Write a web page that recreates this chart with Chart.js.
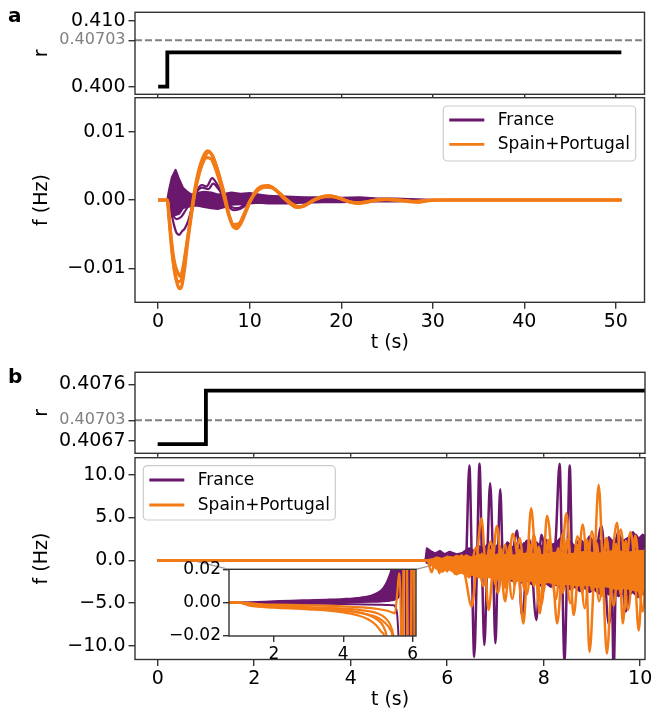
<!DOCTYPE html>
<html>
<head>
<meta charset="utf-8">
<script src="https://cdn.jsdelivr.net/npm/chart.js@4.4.0/dist/chart.umd.min.js"></script>
<style>
  html, body { margin: 0; padding: 0; background: #fff; overflow: hidden; width: 653px; height: 713px; }
  #fig { position: relative; width: 653px; height: 713px; overflow: hidden; background: #fff; }
  #fig canvas { position: absolute; left: 0; }
  .panel { position: absolute; font-family: 'DejaVu Sans'; font-weight: bold; font-size: 20px; line-height: 20px; color: #000; }
</style>
</head>
<body>
<div id="fig">
  <canvas id="rA" width="700" height="100" style="top:0px"></canvas>
  <canvas id="fA" width="700" height="261" style="top:95px"></canvas>
  <canvas id="rB" width="700" height="98" style="top:360px"></canvas>
  <canvas id="fB" width="700" height="258" style="top:455px"></canvas>
  <canvas id="fBin" width="300" height="110" style="left:150px;top:550px"></canvas>
  <div class="panel" style="left:8px;top:5px">a</div>
  <div class="panel" style="left:8px;top:366px">b</div>
</div>
<script>
// ---------------- data ----------------
const R_CRIT = 0.40703;

// panel a: coupling r and frequency deviations over 50 s
const aRTime  = [0, 1, 50.6];
const aRValue = [0.400, 0.4052, 0.4052];

const aFrBandT  = [0, 1.0, 1.2, 1.5, 1.9, 2.3, 2.7, 3.1, 3.6, 4.2, 5.0, 5.8, 6.5, 7.3, 8.0, 9.0, 10.0, 11.0, 12.0, 14.0, 16.0, 18.0, 20.0, 22.0, 24.0, 26.0, 28.0, 30.0, 50.6];
const aFrBandHi = [0, 0, 0.0015, 0.0033, 0.0044, 0.0030, 0.0018, 0.0013, 0.0008, 0.0010, 0.0012, 0.0011, 0.0008, 0.0009, 0.0011, 0.0009, 0.0010, 0.0008, 0.0006, 0.0005, 0.0004, 0.0004, 0.0003, 0.0004, 0.0002, 0.0002, 0.0001, 0, 0];
const aFrBandLo = [0, 0, -0.0012, -0.0020, -0.0022, -0.0020, -0.0012, -0.0010, -0.0009, -0.0008, -0.0010, -0.0012, -0.0013, -0.0010, -0.0007, -0.0006, -0.0005, -0.0004, -0.0005, -0.0005, -0.0004, -0.0003, -0.0003, -0.0002, -0.0002, -0.0002, -0.0001, 0, 0];

const aFr1T = [0, 1.0, 1.3, 1.7, 2.0, 2.3, 2.6, 2.9, 3.3, 3.8, 4.3, 4.8, 5.3, 5.9, 6.4, 7.0, 7.6, 8.3, 9.0, 10.0, 11.0, 12.3, 13.5, 15.0, 17.0, 19.0, 22.0, 25.0, 30.0, 50.6];
const aFr1F = [0, 0, -0.0010, -0.0035, -0.0048, -0.0051, -0.0046, -0.0042, -0.0030, -0.0005, 0.0015, 0.0022, 0.0020, 0.0032, 0.0024, 0.0008, -0.0008, -0.0015, -0.0013, -0.0003, 0.0004, 0.0006, 0.0002, -0.0003, 0, 0.0002, -0.0001, 0.0001, 0, 0];
const aFr2T = [0, 1.0, 1.5, 2.0, 2.5, 3.0, 3.6, 4.2, 4.8, 5.5, 6.0, 6.6, 7.3, 8.0, 8.7, 9.5, 10.5, 12.0, 13.5, 15.0, 18.0, 30.0, 50.6];
const aFr2F = [0, 0, -0.0018, -0.0028, -0.0025, -0.0015, -0.0002, 0.0012, 0.0018, 0.0016, 0.0024, 0.0016, 0.0002, -0.0010, -0.0012, -0.0006, 0.0002, 0.0005, 0.0002, -0.0002, 0.0001, 0, 0];

const aEs1T = [0, 1.0, 1.2, 1.5, 1.8, 2.1, 2.35, 2.6, 2.9, 3.2, 3.6, 4.0, 4.5, 5.0, 5.5, 5.9, 6.3, 6.8, 7.3, 7.8, 8.3, 8.8, 9.4, 10.0, 10.7, 11.5, 12.2, 13.0, 13.8, 14.5, 15.2, 16.0, 17.0, 18.0, 18.8, 19.7, 20.7, 21.7, 22.7, 24.0, 25.0, 26.5, 28.3, 29.5, 31.0, 50.6];
const aEs1F = [0, 0, -0.0030, -0.0075, -0.0105, -0.0124, -0.0130, -0.0125, -0.0100, -0.0065, -0.0025, 0.0010, 0.0040, 0.0060, 0.0070, 0.0066, 0.0052, 0.0030, 0.0005, -0.0025, -0.0040, -0.0038, -0.0022, -0.0003, 0.0012, 0.0019, 0.0020, 0.0013, 0.0003, -0.0006, -0.0010, -0.0008, 0, 0.0005, 0.0006, 0.0003, -0.0002, -0.0005, -0.0003, 0, 0.0001, -0.0001, -0.0003, -0.0001, 0, 0];
const aEs2T = [0, 1.0, 1.2, 1.5, 1.8, 2.1, 2.4, 2.7, 3.0, 3.4, 3.8, 4.3, 4.8, 5.3, 5.8, 6.2, 6.7, 7.2, 7.7, 8.2, 8.8, 9.4, 10.0, 10.8, 11.7, 12.4, 13.2, 14.0, 14.8, 15.5, 16.3, 17.2, 18.2, 19.0, 20.0, 21.0, 22.0, 23.0, 24.5, 26.0, 28.0, 30.0, 50.6];
const aEs2F = [0, 0, -0.0025, -0.0065, -0.0092, -0.0105, -0.0112, -0.0100, -0.0075, -0.0040, -0.0005, 0.0030, 0.0052, 0.0062, 0.0060, 0.0048, 0.0028, 0.0004, -0.0022, -0.0036, -0.0035, -0.0020, -0.0002, 0.0013, 0.0019, 0.0018, 0.0011, 0.0001, -0.0007, -0.0010, -0.0006, 0.0001, 0.0005, 0.0005, 0.0002, -0.0003, -0.0004, -0.0002, 0.0001, 0, -0.0002, 0, 0];
const aEs3T = [0, 1.0, 1.3, 1.6, 1.9, 2.2, 2.5, 2.8, 3.1, 3.5, 3.9, 4.4, 4.9, 5.4, 5.8, 6.2, 6.7, 7.2, 7.7, 8.2, 8.6, 9.2, 9.8, 10.5, 11.3, 12.0, 12.8, 13.6, 14.4, 15.1, 15.9, 16.8, 17.8, 18.6, 19.5, 20.5, 21.5, 22.5, 23.5, 25.0, 27.0, 28.5, 30.0, 50.6];
const aEs3F = [0, 0, -0.0040, -0.0085, -0.0112, -0.0120, -0.0118, -0.0098, -0.0068, -0.0030, 0.0008, 0.0042, 0.0063, 0.0072, 0.0068, 0.0056, 0.0034, 0.0008, -0.0020, -0.0038, -0.0042, -0.0030, -0.0010, 0.0010, 0.0020, 0.0021, 0.0015, 0.0004, -0.0005, -0.0011, -0.0009, -0.0002, 0.0004, 0.0006, 0.0004, -0.0001, -0.0004, -0.0004, -0.0001, 0.0001, -0.0001, -0.0003, 0, 0];

// panel b: coupling r and frequency deviations over 10 s
const bRTime  = [0, 1, 10.2];
const bRValue = [0.40665, 0.40750, 0.40750];

const bFrBandT  = [0, 5.55, 5.58, 5.65, 5.75, 5.85, 5.95, 6.05, 6.15, 6.25, 6.35, 6.45, 6.55, 6.65, 6.75, 6.85, 6.95, 7.05, 7.15, 7.25, 7.35, 7.45, 7.55, 7.65, 7.75, 7.85, 7.95, 8.05, 8.15, 8.25, 8.35, 8.45, 8.55, 8.65, 8.75, 8.85, 8.95, 9.05, 9.15, 9.25, 9.35, 9.45, 9.55, 9.65, 9.75, 9.85, 9.95, 10.05, 10.15];
const bFrBandHi = [0, 0, 1.4, 1.1, 0.8, 1.1, 0.7, 1.0, 0.8, 0.6, 1.0, 1.4, 1.1, 1.7, 1.3, 1.9, 1.4, 1.8, 1.3, 2.1, 1.5, 2.0, 1.4, 2.3, 1.6, 2.1, 1.5, 2.4, 1.8, 2.0, 2.6, 1.7, 2.2, 1.6, 2.5, 1.9, 2.8, 2.0, 2.4, 1.8, 2.7, 2.1, 3.0, 2.3, 2.6, 3.3, 2.4, 3.0, 2.6];
const bFrBandLo = [0, 0, -0.3, -0.5, -0.4, -0.6, -0.45, -0.6, -0.5, -0.7, -0.6, -1.2, -1.5, -1.3, -1.8, -1.6, -2.0, -1.7, -2.2, -1.9, -2.4, -2.1, -2.6, -2.3, -2.8, -2.5, -3.0, -2.7, -3.1, -2.8, -3.3, -3.0, -3.4, -3.1, -3.6, -3.2, -3.7, -3.4, -3.9, -3.5, -4.0, -3.6, -4.2, -3.8, -4.1, -3.7, -4.3, -3.9, -4.2];

const bFrSpike1T = [0, 5.55, 5.58, 6.0, 6.3, 6.38, 6.46, 6.51, 6.56, 6.62, 6.67, 6.72, 6.77, 6.83, 6.89, 6.95, 7.0, 7.05, 7.1, 7.16, 7.25, 7.4, 7.6, 7.8, 8.0, 8.15, 8.25, 8.33, 8.38, 8.43, 8.49, 8.54, 8.6, 8.7, 8.9, 9.1, 9.3, 9.4, 9.45, 9.5, 9.6, 9.8, 10.0, 10.15];
const bFrSpike1F = [0, 0, 0.5, 0.3, 0.8, -1.0, 11.1, 0, -11.3, 0, 11.3, 0, -9.9, 0, 9.0, 0, -9.7, 0, 8.3, -0.5, 1.5, -1.0, 2.0, -1.5, 1.8, -2.0, 2.5, 11.3, 0, -11.7, 0, 11.1, -2.0, 1.0, -2.5, 2.0, -3.0, 1.5, -13.0, -1.0, 2.0, -2.5, 2.0, 1.0];
const bFrSpike2T = [0, 5.6, 7.3, 7.45, 7.55, 7.7, 7.85, 7.95, 8.1, 9.0, 9.2, 9.35, 9.55, 9.7, 9.9, 10.15];
const bFrSpike2F = [0, 0, -1.0, 3.5, -6.5, 2.5, -7.0, 3.0, -1.5, -2.0, 4.0, -7.5, 3.5, -6.0, 3.0, -2.0];

const bEsBandT  = [0, 5.6, 5.7, 5.8, 5.9, 6.0, 6.1, 6.2, 6.3, 6.4, 6.5, 6.7, 6.9, 7.1, 7.3, 7.5, 7.7, 7.9, 8.1, 8.3, 8.5, 8.7, 8.9, 9.1, 9.3, 9.5, 9.7, 9.9, 10.15];
const bEsBandHi = [0, 0, 0.1, 0.3, 0.1, 0.4, 0.2, 0.5, 0.3, 0.5, 0.3, 0.6, 0.4, 0.7, 0.5, 0.6, 0.8, 0.5, 0.7, 0.9, 0.6, 0.8, 1.0, 0.7, 0.9, 1.1, 0.8, 1.0, 1.1];
const bEsBandLo = [0, 0, -0.6, -1.0, -1.3, -0.9, -1.2, -1.6, -1.3, -1.8, -1.6, -2.0, -1.9, -2.2, -2.1, -2.4, -2.3, -2.6, -2.5, -2.8, -2.7, -2.9, -2.8, -3.1, -3.0, -3.3, -3.2, -3.5, -3.4];

const bEsBigT = [0, 5.9, 6.05, 6.2, 6.35, 6.51, 6.61, 6.71, 6.78, 6.86, 6.95, 7.03, 7.11, 7.2, 7.28, 7.36, 7.47, 7.58, 7.66, 7.74, 7.83, 7.92, 8.0, 8.07, 8.18, 8.28, 8.38, 8.47, 8.55, 8.62, 8.72, 8.81, 8.88, 8.95, 9.05, 9.14, 9.22, 9.31, 9.42, 9.52, 9.58, 9.64, 9.72, 9.8, 9.88, 9.97, 10.05, 10.15];
const bEsBigF = [0, 0, -0.6, 0.4, -1.2, -5.4, -0.2, 4.9, 0.2, -5.8, -0.3, 4.0, -0.1, -4.8, -0.4, 3.1, -0.5, -7.4, -0.6, 6.1, -0.2, -6.2, -0.4, 5.2, -0.3, -7.4, -0.5, 5.5, -0.2, -6.4, -0.6, 4.2, -0.5, -10.7, -0.8, 8.8, -0.4, -10.9, -0.3, 4.4, -0.5, -7.4, -0.7, 3.3, -0.4, -8.2, -0.5, 2.0];

const bEsMid1T = [5.6, 5.68, 5.76, 5.84, 5.92, 6.0, 6.08, 6.16, 6.24, 6.32, 6.4, 6.48, 6.56, 6.64, 6.72, 6.8, 6.9, 7.0, 7.1, 7.2, 7.3, 7.4, 7.5, 7.6, 7.7, 7.8, 7.9, 8.0, 8.1, 8.2, 8.3, 8.4, 8.5, 8.6, 8.7, 8.8, 8.9, 9.0, 9.1, 9.2, 9.3, 9.4, 9.5, 9.6, 9.7, 9.8, 9.9, 10.0, 10.15];
const bEsMid1F = [0, -1.4, 0.3, -1.5, 0.2, -1.3, 0.4, -1.6, 0.3, -1.2, 0.6, -1.8, 0.5, -2.0, 0.8, -2.2, 1.2, -2.8, 1.5, -3.2, 1.8, -2.9, 1.2, -3.4, 2.0, -3.0, 1.6, -3.6, 2.2, -3.1, 1.4, -3.8, 2.5, -3.3, 1.8, -3.9, 2.4, -3.5, 2.0, -4.2, 2.6, -3.6, 1.9, -4.0, 2.3, -3.7, 2.8, -4.4, 1.5];
const bEsMid2T = [5.7, 5.85, 6.0, 6.15, 6.3, 6.45, 6.6, 6.75, 6.9, 7.05, 7.2, 7.35, 7.5, 7.65, 7.8, 7.95, 8.1, 8.25, 8.4, 8.55, 8.7, 8.85, 9.0, 9.15, 9.3, 9.45, 9.6, 9.75, 9.9, 10.05, 10.15];
const bEsMid2F = [0, -1.2, 0.4, -1.0, 0.6, -2.0, 1.5, -3.0, 2.2, -3.8, 1.8, -4.5, 2.6, -4.0, 3.0, -5.2, 2.4, -4.6, 3.2, -5.0, 2.8, -5.6, 3.4, -4.8, 2.6, -5.3, 3.6, -5.8, 2.9, -6.0, 2.0];

// inset of panel b: the slow drift before the break-up
const inFrBandT  = [0.7, 1.0, 1.5, 2.0, 2.5, 3.0, 3.5, 4.0, 4.5, 4.8, 5.0, 5.15, 5.25, 5.33, 5.39, 5.45, 5.55, 5.65, 5.7];
const inFrBandHi = [0, 0, 0.0004, 0.0008, 0.0012, 0.0015, 0.0018, 0.0022, 0.0030, 0.0042, 0.0060, 0.0086, 0.0120, 0.0160, 0.0200, 0.0300, 0.0300, 0.0300, 0.0300];
const inFrBandLo = [0, 0, -0.0002, 0, 0.0001, 0.0002, 0.0002, 0.0003, 0.0004, 0.0005, 0.0006, 0.0008, 0.0010, 0.0012, 0.0014, 0.0016, 0.0025, 0.0080, 0.0300];
const inFr2T = [0.7, 1.0, 2.0, 3.0, 4.0, 5.0, 5.3, 5.45, 5.55, 5.62];
const inFr2F = [0, 0, -0.0005, -0.0007, -0.0008, -0.0012, -0.0014, -0.0016, -0.0060, -0.0300];
const inFrStreakT = [5.69, 5.71, 5.79, 5.81, 5.9, 5.92, 6.0, 6.02];
const inFrStreakF = [0.05, -0.05, -0.05, 0.05, 0.05, -0.05, -0.05, 0.05];

const inEs1T = [0.7, 1.0, 1.3, 2.0, 3.0, 4.0, 4.5, 5.0, 5.3, 5.49, 5.56, 5.61, 5.65, 5.68];
const inEs1F = [0, 0, -0.0008, -0.0012, -0.0016, -0.0022, -0.0028, -0.0038, -0.0050, -0.0064, 0.0060, 0.0176, 0.0050, -0.0300];
const inEs2T = [0.7, 1.0, 1.3, 2.0, 3.0, 4.0, 4.5, 5.0, 5.2, 5.35, 5.45, 5.5];
const inEs2F = [0, 0, -0.0012, -0.0020, -0.0028, -0.0036, -0.0045, -0.0065, -0.0090, -0.0130, -0.0200, -0.0300];
const inEs3T = [0.7, 1.0, 1.3, 2.0, 3.0, 4.0, 4.5, 4.8, 5.0, 5.15, 5.25, 5.3];
const inEs3F = [0, 0, -0.0015, -0.0025, -0.0035, -0.0048, -0.0062, -0.0080, -0.0105, -0.0140, -0.0200, -0.0300];
const inEs4T = [0.7, 1.0, 1.3, 2.0, 3.0, 4.0, 4.4, 4.7, 4.95, 5.1, 5.18, 5.22];
const inEs4F = [0, 0, -0.0018, -0.0030, -0.0040, -0.0058, -0.0075, -0.0098, -0.0135, -0.0175, -0.0200, -0.0300];
const inEs5T = [0.7, 1.0, 2.0, 3.0, 4.0, 4.6, 5.0, 5.2, 5.35, 5.42, 5.46];
const inEs5F = [0, 0, -0.0018, -0.0030, -0.0045, -0.0065, -0.0090, -0.0120, -0.0160, -0.0200, -0.0300];
const inEsStreakT = [5.72, 5.75, 5.83, 5.86, 5.95, 5.98, 6.04, 6.07, 6.1];
const inEsStreakF = [-0.05, 0.05, 0.05, -0.05, -0.05, 0.05, 0.05, -0.05, -0.05];

// ticks and axis ranges
const aRTicks = [0.400, R_CRIT, 0.410];
const aRTickLabels = ['0.400', '0.40703', '0.410'];
const aFTicks = [-0.01, 0, 0.01];
const aFTickLabels = ['\u22120.01', '0.00', '0.01'];
const aTTicks = [0, 10, 20, 30, 40, 50];
const aTTickLabels = ['0', '10', '20', '30', '40', '50'];
const bRTicks = [0.4067, R_CRIT, 0.4076];
const bRTickLabels = ['0.4067', '0.40703', '0.4076'];
const bFTicks = [-10, -5, 0, 5, 10];
const bFTickLabels = ['\u221210.0', '\u22125.0', '0.0', '5.0', '10.0'];
const bTTicks = [0, 2, 4, 6, 8, 10];
const bTTickLabels = ['0', '2', '4', '6', '8', '10'];
const inFTicks = [-0.02, 0, 0.02];
const inFTickLabels = ['\u22120.02', '0.00', '0.02'];
const inTTicks = [2, 4, 6];
const inTTickLabels = ['2', '4', '6'];

const A_T = [-2.53, 53.13], A_R = [0.398848, 0.411273], A_F = [-0.015, 0.015];
const B_T = [-0.47, 10.1],  B_R = [0.406505, 0.40779],  B_F = [-11.6, 12.0];
const IN_T = [0.7, 6.1], IN_F = [-0.02, 0.02];

// ---------------- styling helpers ----------------
const FONT = 'DejaVu Sans';
const INK = '#000000';
const SPINE = '#333333';
const FR = '#6a176e';
const ES = '#f37b16';
const GREY = '#808080';

Chart.defaults.font.family = FONT;
Chart.defaults.color = INK;
Chart.defaults.animation = false;

const xy = (ts, vs) => ts.map((t, i) => ({ x: t, y: vs[i] }));

function series(ts, vs, color, width, extra) {
  return Object.assign({
    data: xy(ts, vs), borderColor: color, backgroundColor: color, borderWidth: width,
    pointRadius: 0, pointHoverRadius: 0, fill: false, tension: 0,
    borderJoinStyle: 'round', borderCapStyle: 'butt'
  }, extra || {});
}
const smooth = { cubicInterpolationMode: 'monotone' };

// fixed axis sizes; tick labels may overhang the plot edges without shrinking it
function fixBox(s, size) {
  if (s.isHorizontal()) s.height = size; else s.width = size;
  s.paddingTop = 0; s.paddingBottom = 0; s.paddingLeft = 0; s.paddingRight = 0;
}

function axisX(range, ticks, labels, o) {
  return {
    type: 'linear', position: 'bottom', min: range[0], max: range[1],
    afterBuildTicks: s => { s.ticks = ticks.map(v => ({ value: v })); },
    afterFit: s => fixBox(s, o.h),
    ticks: {
      display: !!labels, autoSkip: false, maxRotation: 0, minRotation: 0,
      padding: o.pad ?? 2, color: INK, font: { family: FONT, size: o.size ?? 19 },
      callback: (v, i) => labels ? labels[i] : ''
    },
    grid: { drawOnChartArea: false, drawTicks: true, tickLength: o.tick ?? 6.5, color: SPINE, lineWidth: 1.4 },
    border: { display: false },
    title: o.title ? { display: true, text: o.title, color: INK, font: { family: FONT, size: 19 }, padding: 0 } : { display: false }
  };
}

function axisY(range, ticks, labels, o) {
  return {
    type: 'linear', position: 'left', min: range[0], max: range[1],
    afterBuildTicks: s => { s.ticks = ticks.map(v => ({ value: v })); },
    afterFit: s => fixBox(s, o.w),
    ticks: {
      autoSkip: false, padding: o.pad ?? 3,
      color: c => (c.tick && c.tick.value === R_CRIT) ? GREY : INK,
      font: c => ({ family: FONT, size: (c.tick && c.tick.value === R_CRIT) ? 16 : (o.size ?? 19) }),
      callback: (v, i) => labels[i]
    },
    grid: { drawOnChartArea: false, drawTicks: true, tickLength: o.tick ?? 6.5, color: SPINE, lineWidth: 1.4 },
    border: { display: false },
    title: o.title ? { display: true, text: o.title, color: INK, font: { family: FONT, size: 19 }, padding: 0 } : { display: false }
  };
}

// frame around the plotting area
const frame = {
  id: 'frame',
  beforeDraw(chart, args, o) {
    if (o && o.white) {
      const a = chart.chartArea, ctx = chart.ctx;
      ctx.save(); ctx.fillStyle = '#ffffff';
      ctx.fillRect(a.left, a.top, a.right - a.left, a.bottom - a.top); ctx.restore();
    }
  },
  afterDatasetsDraw(chart) {
    const a = chart.chartArea, ctx = chart.ctx;
    ctx.save(); ctx.strokeStyle = SPINE; ctx.lineWidth = 1.4;
    ctx.strokeRect(a.left, a.top, a.right - a.left, a.bottom - a.top); ctx.restore();
  }
};

// legend box drawn from the datasets flagged with legendEntry
const boxLegend = {
  id: 'boxLegend',
  afterDraw(chart, args, o) {
    if (!o || o.w == null) return;
    const ctx = chart.ctx;
    const items = chart.data.datasets.filter(d => d.legendEntry).sort((p, q) => p.legendEntry - q.legendEntry);
    ctx.save();
    ctx.beginPath();
    if (ctx.roundRect) ctx.roundRect(o.x, o.y, o.w, o.h, 4); else ctx.rect(o.x, o.y, o.w, o.h);
    ctx.fillStyle = 'rgba(255,255,255,0.8)'; ctx.fill();
    ctx.strokeStyle = '#cccccc'; ctx.lineWidth = 1.2; ctx.stroke();
    ctx.font = '17px "DejaVu Sans"'; ctx.textBaseline = 'middle'; ctx.textAlign = 'left';
    items.forEach((d, i) => {
      const y = o.y + o.row0 + i * o.step;
      ctx.beginPath(); ctx.moveTo(o.x + 6, y); ctx.lineTo(o.x + 41, y);
      ctx.strokeStyle = d.borderColor; ctx.lineWidth = 2.8; ctx.stroke();
      ctx.fillStyle = INK; ctx.fillText(d.label, o.x + 54.5, y + 0.5);
    });
    ctx.restore();
  }
};

// zoom-region marker and connectors to the inset
let insetChart = null;
const INSET_DX = 150, INSET_DY = 550 - 455;
const insetMark = {
  id: 'insetMark',
  beforeDatasetsDraw(chart) {
    if (!insetChart) return;
    const { x, y } = chart.scales, ctx = chart.ctx;
    const x0 = x.getPixelForValue(IN_T[0]), x1 = x.getPixelForValue(IN_T[1]);
    const y0 = y.getPixelForValue(IN_F[1]), y1 = y.getPixelForValue(IN_F[0]);
    const ia = insetChart.chartArea;
    ctx.save(); ctx.strokeStyle = '#9a9a9a'; ctx.lineWidth = 1.2;
    ctx.strokeRect(x0, y0, x1 - x0, y1 - y0);
    ctx.beginPath();
    ctx.moveTo(x0, y0); ctx.lineTo(ia.left + INSET_DX, ia.top + INSET_DY);
    ctx.moveTo(x1, y0); ctx.lineTo(ia.right + INSET_DX, ia.top + INSET_DY);
    ctx.stroke(); ctx.restore();
  }
};

const base = { responsive: false, maintainAspectRatio: false, animation: false, events: [],
  plugins: { legend: { display: false }, tooltip: { enabled: false } } };

function opts(extra) { return Object.assign({}, base, extra, { plugins: Object.assign({}, base.plugins, extra.plugins || {}) }); }

// ---------------- panel a, top: r(t) ----------------
new Chart(document.getElementById('rA'), {
  type: 'line',
  data: { datasets: [
    series(aRTime, aRValue, '#000000', 3.8, { stepped: 'before', borderJoinStyle: 'miter' }),
    series(A_T, [R_CRIT, R_CRIT], GREY, 1.9, { borderDash: [7, 3] })
  ] },
  options: opts({
    layout: { padding: { left: 30.6, top: 12.3, right: 700 - 644.5, bottom: 0 } },
    scales: {
      x: axisX(A_T, aTTicks, null, { h: 5.7, tick: 3.4 }),
      y: axisY(A_R, aRTicks, aRTickLabels, { w: 104.4, title: 'r' })
    }
  }),
  plugins: [frame]
});

// ---------------- panel a, bottom: f(t) ----------------
new Chart(document.getElementById('fA'), {
  type: 'line',
  data: { datasets: [
    series(aEs1T, aEs1F, ES, 3.2, Object.assign({ label: 'Spain+Portugal', legendEntry: 2, order: 0 }, smooth)),
    series(aEs2T, aEs2F, ES, 3.2, Object.assign({ order: 0 }, smooth)),
    series(aEs3T, aEs3F, ES, 3.2, Object.assign({ order: 0 }, smooth)),
    series(aFrBandT, aFrBandHi, FR, 2.2, { order: 1, fill: '+1' }),
    series(aFrBandT, aFrBandLo, FR, 2.2, { order: 1 }),
    series(aFr1T, aFr1F, FR, 2.2, Object.assign({ label: 'France', legendEntry: 1, order: 1 }, smooth)),
    series(aFr2T, aFr2F, FR, 2.2, Object.assign({ order: 1 }, smooth))
  ] },
  options: opts({
    layout: { padding: { left: 30.6, top: 2.7, right: 700 - 644.5, bottom: 1.6 } },
    scales: {
      x: axisX(A_T, aTTicks, aTTickLabels, { h: 52.1, title: 't (s)' }),
      y: axisY(A_F, aFTicks, aFTickLabels, { w: 104.4, title: 'f (Hz)' })
    },
    plugins: { boxLegend: { x: 443.3, y: 11, w: 192.4, h: 55, row0: 14, step: 24.3 } }
  }),
  plugins: [frame, boxLegend]
});

// ---------------- panel b, top: r(t) ----------------
new Chart(document.getElementById('rB'), {
  type: 'line',
  data: { datasets: [
    series(bRTime, bRValue, '#000000', 3.8, { stepped: 'before', borderJoinStyle: 'miter' }),
    series(B_T, [R_CRIT, R_CRIT], GREY, 1.9, { borderDash: [7, 3] })
  ] },
  options: opts({
    layout: { padding: { left: 30.6, top: 12.3, right: 700 - 645, bottom: 0 } },
    scales: {
      x: axisX(B_T, bTTicks, null, { h: 4.7, tick: 3.4 }),
      y: axisY(B_R, bRTicks, bRTickLabels, { w: 104.4, title: 'r' })
    }
  }),
  plugins: [frame]
});

// ---------------- panel b, inset: early drift ----------------
insetChart = new Chart(document.getElementById('fBin'), {
  type: 'line',
  data: { datasets: [
    series(inEs1T, inEs1F, ES, 2.2, Object.assign({ order: 0 }, smooth)),
    series(inEs2T, inEs2F, ES, 2.2, Object.assign({ order: 0 }, smooth)),
    series(inEs3T, inEs3F, ES, 2.2, Object.assign({ order: 0 }, smooth)),
    series(inEs4T, inEs4F, ES, 2.2, Object.assign({ order: 0 }, smooth)),
    series(inEs5T, inEs5F, ES, 2.2, Object.assign({ order: 0 }, smooth)),
    series(inEsStreakT, inEsStreakF, ES, 2.6, { order: 0 }),
    series(inFrBandT, inFrBandHi, FR, 2.0, Object.assign({ order: 1, fill: '+1' }, smooth)),
    series(inFrBandT, inFrBandLo, FR, 2.0, Object.assign({ order: 1 }, smooth)),
    series(inFr2T, inFr2F, FR, 2.0, Object.assign({ order: 1 }, smooth)),
    series(inFrStreakT, inFrStreakF, FR, 2.6, { order: 1 })
  ] },
  options: opts({
    layout: { padding: { left: 0, top: 19.3, right: 34, bottom: 0 } },
    scales: {
      x: axisX(IN_T, inTTicks, inTTickLabels, { h: 24, size: 17, tick: 6 }),
      y: axisY(IN_F, inFTicks, inFTickLabels, { w: 79, size: 17, tick: 6, pad: 2 })
    },
    plugins: { frame: { white: true } }
  }),
  plugins: [frame]
});

// ---------------- panel b, bottom: f(t) ----------------
new Chart(document.getElementById('fB'), {
  type: 'line',
  data: { datasets: [
    series(bEsBigT, bEsBigF, ES, 2.5, Object.assign({ label: 'Spain+Portugal', legendEntry: 2, order: 0 }, smooth)),
    series(bEsMid1T, bEsMid1F, ES, 2.5, Object.assign({ order: 0 }, smooth)),
    series(bEsMid2T, bEsMid2F, ES, 2.5, Object.assign({ order: 0 }, smooth)),
    series(bEsBandT, bEsBandHi, ES, 2.8, { order: 0, fill: '+1' }),
    series(bEsBandT, bEsBandLo, ES, 2.8, { order: 0 }),
    series(bFrSpike1T, bFrSpike1F, FR, 2.5, Object.assign({ label: 'France', legendEntry: 1, order: 1 }, smooth)),
    series(bFrSpike2T, bFrSpike2F, FR, 2.5, Object.assign({ order: 1 }, smooth)),
    series(bFrBandT, bFrBandHi, FR, 2.2, { order: 1, fill: '+1' }),
    series(bFrBandT, bFrBandLo, FR, 2.2, { order: 1 })
  ] },
  options: opts({
    layout: { padding: { left: 30.6, top: 2.7, right: 700 - 645, bottom: 1.4 } },
    scales: {
      x: axisX(B_T, bTTicks, bTTickLabels, { h: 52.1, title: 't (s)' }),
      y: axisY(B_F, bFTicks, bFTickLabels, { w: 104.4, title: 'f (Hz)' })
    },
    plugins: { boxLegend: { x: 143.3, y: 10.7, w: 192, h: 54.3, row0: 14.3, step: 25 } }
  }),
  plugins: [frame, boxLegend, insetMark]
});
</script>
</body>
</html>
